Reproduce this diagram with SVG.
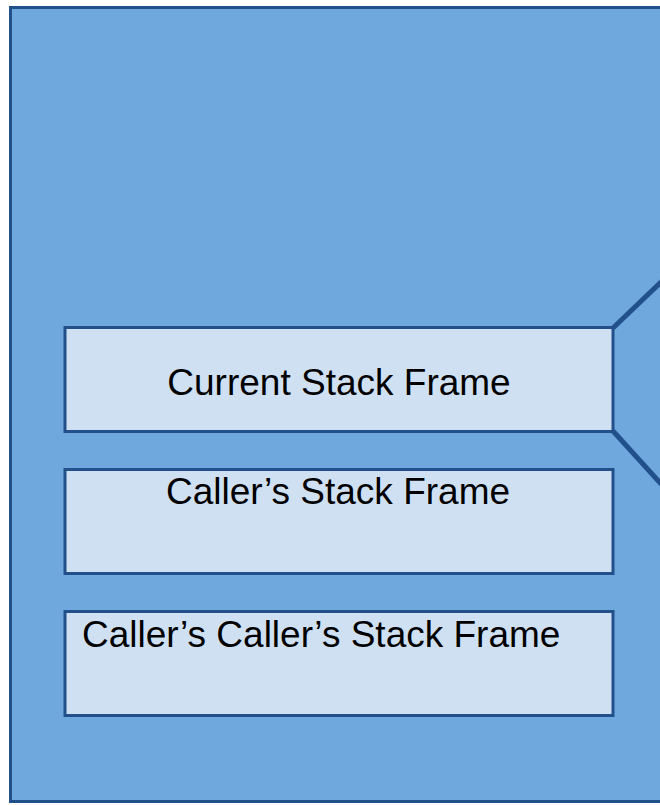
<svg xmlns="http://www.w3.org/2000/svg" width="660" height="805" viewBox="0 0 660 805">
<style>
.frame{fill:#cfe0f3;stroke:#22508a;stroke-width:3}
.lbl{font-family:"Liberation Sans",Arial,sans-serif;font-size:37px;fill:#000}
.conn{stroke:#22508a;stroke-width:5;fill:none}
</style>
<g id="memory">
<rect x="10.5" y="7.5" width="660" height="794" fill="#6fa8dc" stroke="#22508a" stroke-width="3"/>
</g>
<g id="connectors">
<line class="conn" x1="613" y1="328" x2="662" y2="281"/>
<line class="conn" x1="613" y1="431" x2="662" y2="485"/>
</g>
<g id="current">
<rect class="frame" x="65" y="327.5" width="548" height="104"/>
<text class="lbl" x="339" y="395" text-anchor="middle">Current Stack Frame</text>
</g>
<g id="caller">
<rect class="frame" x="65" y="469.5" width="548" height="104"/>
<text class="lbl" x="338" y="504" text-anchor="middle">Caller’s Stack Frame</text>
</g>
<g id="callers-caller">
<rect class="frame" x="65" y="611.5" width="548" height="104"/>
<text class="lbl" x="82" y="647">Caller’s Caller’s Stack Frame</text>
</g>
</svg>
